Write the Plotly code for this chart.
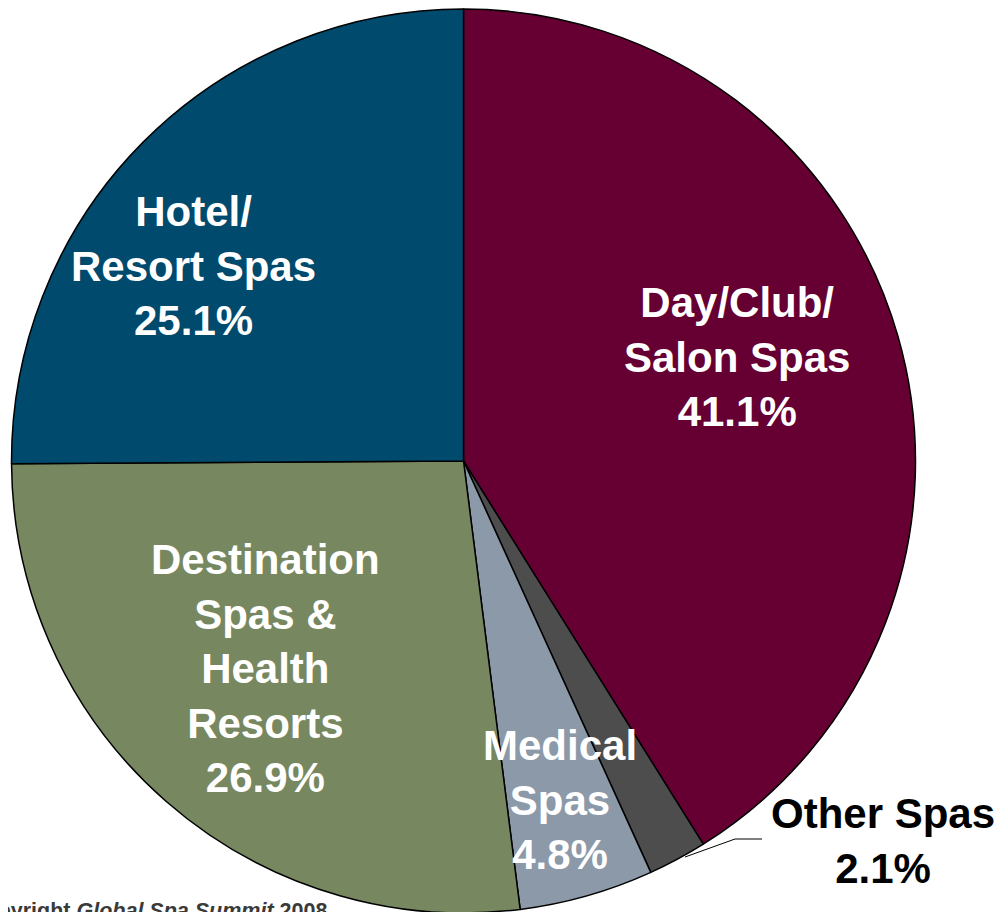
import plotly.graph_objects as go

# ── Data ────────────────────────────────────────────────────────────────────
segments = ["Day/Club/ Salon Spas", "Other Spas", "Medical Spas",
            "Destination Spas & Health Resorts", "Hotel/ Resort Spas"]
shares = [41.1, 2.1, 4.8, 26.9, 25.1]
label_lines = [
    ["Day/Club/", "Salon Spas"],
    ["Other Spas"],
    ["Medical", "Spas"],
    ["Destination", "Spas &amp;", "Health", "Resorts"],
    ["Hotel/", "Resort Spas"],
]

# ── Style ───────────────────────────────────────────────────────────────────
COLORS = ["#660033", "#4D4D4D", "#8B99A8", "#778760", "#004A6E"]
LABEL_FONT = "Liberation Sans, Arial, sans-serif"
W, H = 1004, 912
OFF = 8  # page body margin

# label centres in screen px (x, y from top) and text colour
label_pos = [(737, 357), (883, 841), (560, 800), (265, 668), (193, 266)]
label_col = ["white", "black", "white", "white", "white"]


def px(x):
    return (x - OFF) / W


def py(y):
    return 1 - (y - OFF) / H


fig = go.Figure(go.Pie(
    labels=segments, values=shares,
    sort=False, direction="clockwise", rotation=0,
    marker=dict(colors=COLORS, line=dict(color="black", width=1.5)),
    textinfo="none", hoverinfo="label+percent",
    domain=dict(x=[0.0035, 0.9039], y=[0.0077, 0.9989]),
))

for lines, val, (x, y), col in zip(label_lines, shares, label_pos, label_col):
    fig.add_annotation(
        x=px(x), y=py(y), xref="paper", yref="paper",
        text="<b>" + "<br>".join(lines + [f"{val:.1f}%"]) + "</b>",
        showarrow=False, xanchor="center", yanchor="middle",
        font=dict(family=LABEL_FONT, size=42, color=col),
    )

# leader line for the small slice
fig.add_shape(type="path", xref="paper", yref="paper",
              path=f"M {px(685)} {py(857)} L {px(735)} {py(839)} L {px(762)} {py(839)}",
              line=dict(color="black", width=1))

fig.add_annotation(
    x=px(-33), y=py(911), xref="paper", yref="paper",
    text="<b>Copyright <i>Global Spa Summit</i> 2008</b>",
    showarrow=False, xanchor="left", yanchor="middle",
    font=dict(family=LABEL_FONT, size=21.5, color="#3A3A3A"),
)

fig.update_layout(
    width=W, height=H,
    margin=dict(l=0, r=0, t=0, b=0),
    paper_bgcolor="white", plot_bgcolor="white",
    showlegend=False,
)

fig.write_html("out.html")
